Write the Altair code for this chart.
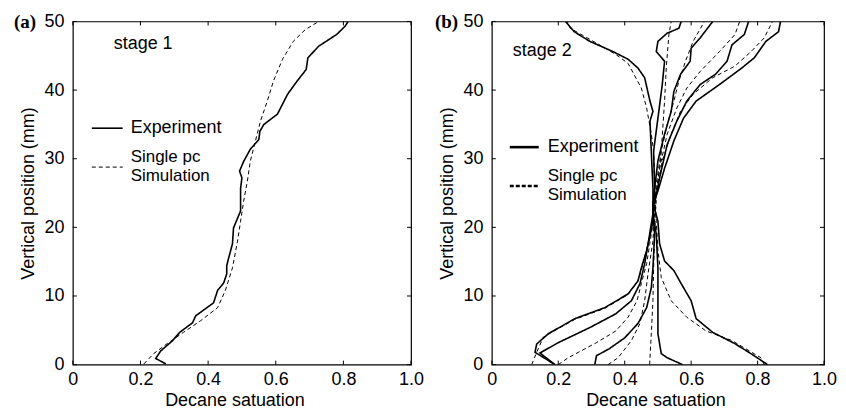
import altair as alt
import pandas as pd

FONT = "Liberation Sans"

# ---------------- data ----------------
x_ticks = [0, 0.2, 0.4, 0.6, 0.8, 1.0]
y_ticks = [0, 10, 20, 30, 40, 50]

# Panel (a), stage 1
a_exp_sat = [0.275, 0.245, 0.26, 0.295, 0.316, 0.354, 0.363, 0.416, 0.428, 0.446, 0.455, 0.455, 0.46,
             0.472, 0.475, 0.496, 0.496, 0.496, 0.50, 0.493, 0.505, 0.525, 0.55, 0.553, 0.565, 0.605,
             0.635, 0.663, 0.69, 0.695, 0.727, 0.78, 0.805, 0.814]
a_exp_pos = [0.1, 0.9, 2.0, 3.5, 4.7, 6.1, 7.1, 9.0, 10.8, 11.9, 13.2, 14.4, 15.4, 17.6, 19.9, 22.4,
             23.8, 25.7, 27.2, 28.2, 29.6, 31.4, 32.8, 34.0, 35.0, 36.5, 39.4, 41.3, 43.0, 44.7, 46.4,
             48.1, 49.3, 50.0]
a_sim_sat = [0.21, 0.239, 0.28, 0.327, 0.378, 0.428, 0.451, 0.472, 0.487, 0.496, 0.505, 0.516, 0.525,
             0.54, 0.555, 0.575, 0.593, 0.62, 0.652, 0.687, 0.727]
a_sim_pos = [0.1, 1.6, 3.1, 4.7, 6.4, 8.3, 10.8, 14.1, 18.0, 20.9, 23.8, 26.7, 29.7, 32.6, 35.5, 38.4,
             41.3, 44.5, 47.1, 48.8, 50.0]

# Panel (b), stage 2 - five profile pairs
b_exp1_sat = [0.83, 0.78, 0.73, 0.665, 0.615, 0.60, 0.57, 0.548, 0.52, 0.505, 0.50, 0.485, 0.485, 0.48,
              0.476, 0.485, 0.476, 0.46, 0.44, 0.41, 0.365, 0.295, 0.248, 0.222]
b_exp1_pos = [0, 1.6, 3.1, 4.7, 6.7, 9.3, 11.8, 13.7, 15.1, 17.6, 20.9, 23.5, 25.7, 31.1, 35.5, 36.9,
              38.4, 41.8, 43.2, 44.5, 45.6, 47.1, 48.5, 50]
b_sim1_sat = [0.82, 0.81, 0.723, 0.645, 0.587, 0.54, 0.51, 0.50, 0.495, 0.49, 0.487, 0.48, 0.466, 0.45,
              0.41, 0.373, 0.295, 0.236, 0.227]
b_sim1_pos = [0, 1.0, 3.5, 4.9, 6.9, 9.3, 12.7, 16.6, 20.9, 26.3, 31.1, 33.6, 37.4, 40.3, 43.9, 45.2,
              47.4, 49.0, 50]

b_exp2_sat = [0.574, 0.528, 0.51, 0.50, 0.50, 0.50, 0.495, 0.485, 0.49, 0.487, 0.50, 0.513, 0.52, 0.495,
              0.50, 0.528, 0.563, 0.57]
b_exp2_pos = [0, 1.0, 1.6, 4.5, 9.3, 14, 19, 22, 25.7, 31.1, 35.9, 40.8, 44.2, 45.6, 47.1, 48.3, 49.0, 50]
b_sim2_sat = [0.475, 0.48, 0.485, 0.487, 0.49, 0.492, 0.497, 0.505, 0.51, 0.52, 0.525, 0.533, 0.54]
b_sim2_pos = [0, 4.5, 9.3, 14, 19, 22, 25.3, 28.5, 31.1, 38.4, 43.2, 48.1, 50]

b_exp3_sat = [0.31, 0.315, 0.353, 0.40, 0.44, 0.466, 0.48, 0.485, 0.49, 0.485, 0.49, 0.50, 0.52, 0.54,
              0.548, 0.568, 0.597, 0.60, 0.627, 0.665]
b_exp3_pos = [0, 1.3, 2.3, 3.9, 6.0, 8.3, 11.2, 14.1, 19, 22, 25.7, 29.7, 33.6, 36.9, 39.8, 42.3, 44.2,
              46.1, 47.6, 50]
b_sim3_sat = [0.35, 0.38, 0.42, 0.446, 0.46, 0.47, 0.485, 0.49, 0.495, 0.51, 0.528, 0.548, 0.563, 0.583,
              0.606, 0.64]
b_sim3_pos = [0, 1.0, 3.5, 6.0, 9.3, 13.2, 18, 22, 26.3, 31.1, 35.0, 38.4, 41.3, 44.2, 47.1, 50]

b_exp4_sat = [0.19, 0.145, 0.20, 0.295, 0.373, 0.42, 0.446, 0.46, 0.47, 0.48, 0.49, 0.505, 0.528, 0.557,
              0.587, 0.627, 0.673, 0.708, 0.723, 0.76, 0.773]
b_exp4_pos = [0, 1.7, 3.2, 5.4, 7.4, 9.3, 11.8, 14.7, 17.5, 20.5, 23.5, 27.2, 32.1, 35.5, 38.4, 40.8,
              42.3, 44.2, 46.6, 48.1, 50]
b_sim4_sat = [0.20, 0.23, 0.315, 0.373, 0.41, 0.437, 0.45, 0.466, 0.475, 0.485, 0.49, 0.505, 0.528,
              0.557, 0.587, 0.627, 0.685, 0.732, 0.746]
b_sim4_pos = [0, 1.0, 3.2, 4.9, 6.9, 9.3, 11.8, 14.7, 17.5, 20.5, 23.5, 28.6, 33.6, 37.4, 40.3, 42.7,
              45.6, 48.1, 50]

b_exp5_sat = [0.19, 0.13, 0.135, 0.17, 0.25, 0.34, 0.41, 0.44, 0.45, 0.466, 0.475, 0.485, 0.485, 0.50,
              0.52, 0.548, 0.577, 0.615, 0.685, 0.752, 0.79, 0.825, 0.863, 0.869]
b_exp5_pos = [0, 1.8, 3.0, 4.5, 6.7, 8.3, 10.3, 12.2, 14.1, 16.6, 18.5, 21, 23.5, 25.3, 28.6, 32.6,
              35.9, 38.4, 40.8, 43.2, 44.7, 47.1, 48.5, 50]
b_sim5_sat = [0.12, 0.135, 0.155, 0.18, 0.25, 0.34, 0.41, 0.44, 0.452, 0.465, 0.475, 0.485, 0.49, 0.50,
              0.513, 0.54, 0.568, 0.606, 0.665, 0.732, 0.78, 0.82, 0.845]
b_sim5_pos = [0, 1.8, 4.0, 4.7, 6.6, 8.2, 10.2, 12.2, 14.1, 16.6, 18.5, 21, 23.5, 25.7, 29.7, 33.6,
              36.9, 39.4, 41.8, 43.5, 45.6, 47.6, 50]

KINDS = ["Experiment", "Simulation"]


def curve(series, kind, sat, pos):
    return pd.DataFrame({"sat": sat, "pos": pos, "series": series, "kind": kind,
                         "idx": list(range(len(sat)))})


df_a = pd.concat([curve("exp", "Experiment", a_exp_sat, a_exp_pos),
                  curve("sim", "Simulation", a_sim_sat, a_sim_pos)])
df_b = pd.concat([
    curve("e1", "Experiment", b_exp1_sat, b_exp1_pos), curve("s1", "Simulation", b_sim1_sat, b_sim1_pos),
    curve("e2", "Experiment", b_exp2_sat, b_exp2_pos), curve("s2", "Simulation", b_sim2_sat, b_sim2_pos),
    curve("e3", "Experiment", b_exp3_sat, b_exp3_pos), curve("s3", "Simulation", b_sim3_sat, b_sim3_pos),
    curve("e4", "Experiment", b_exp4_sat, b_exp4_pos), curve("s4", "Simulation", b_sim4_sat, b_sim4_pos),
    curve("e5", "Experiment", b_exp5_sat, b_exp5_pos), curve("s5", "Simulation", b_sim5_sat, b_sim5_pos),
])

H = 344
ONE = pd.DataFrame({"k": [0]})
XT = pd.DataFrame({"sat": x_ticks})
YT = pd.DataFrame({"pos": y_ticks})


def panel(df, width, tag, stage, leg, dash, widths, leg_width, title_x):
    xs = alt.Scale(domain=[0, 1], nice=False, zero=False)
    ys = alt.Scale(domain=[0, 50], nice=False, zero=False)
    xaxis = alt.Axis(values=x_ticks, grid=False, ticks=False, tickSize=0, domain=False,
                     labelExpr="datum.value == 0 ? '0' : format(datum.value, '.1f')",
                     labelFont=FONT, labelFontSize=18, labelColor="black", labelPadding=6,
                     labelFlush=False, labelOverlap=False,
                     title="Decane satuation", titleFont=FONT, titleFontSize=18,
                     titleFontWeight="normal", titleColor="black", titlePadding=3,
                     titleX=title_x, titleAnchor="middle")
    yaxis = alt.Axis(values=y_ticks, grid=False, ticks=False, tickSize=0, domain=False,
                     labelFont=FONT, labelFontSize=18, labelColor="black", labelPadding=9,
                     labelFlush=False, labelOverlap=False,
                     title="Vertical position (mm)", titleFont=FONT, titleFontSize=18,
                     titleFontWeight="normal", titleColor="black", titlePadding=6)
    X = alt.X("sat:Q", scale=xs, axis=xaxis)
    Y = alt.Y("pos:Q", scale=ys, axis=yaxis)
    lines = alt.Chart(df).mark_line(color="black", clip=True).encode(
        x=X, y=Y,
        detail="series:N",
        order="idx:Q",
        strokeDash=alt.StrokeDash("kind:N", scale=alt.Scale(domain=KINDS, range=[[1, 0], dash]),
                                  legend=None),
        strokeWidth=alt.StrokeWidth("kind:N", scale=alt.Scale(domain=KINDS, range=widths),
                                    legend=None),
    )
    tk = 4
    top_t = alt.Chart(XT).mark_rule(color="black").encode(x=X, y=alt.value(0), y2=alt.value(tk))
    bot_t = alt.Chart(XT).mark_rule(color="black").encode(x=X, y=alt.value(H - tk), y2=alt.value(H))
    lef_t = alt.Chart(YT).mark_rule(color="black").encode(y=Y, x=alt.value(0), x2=alt.value(tk))
    rig_t = alt.Chart(YT).mark_rule(color="black").encode(
        y=Y, x=alt.value(width - tk), x2=alt.value(width))

    def txt(s, x, y, **kw):
        opts = dict(align="left", baseline="middle", font=FONT, fontSize=18, color="black")
        opts.update(kw)
        return alt.Chart(ONE).mark_text(**opts).encode(
            x=alt.value(x), y=alt.value(y), text=alt.value(s))

    sx0, sx1, tx, y_exp, y_sp, y_sim, y_dash = leg
    leg_exp = alt.Chart(ONE).mark_rule(color="black", strokeWidth=leg_width[0]).encode(
        x=alt.value(sx0), x2=alt.value(sx1), y=alt.value(y_exp))
    leg_sim = alt.Chart(ONE).mark_rule(color="black", strokeWidth=leg_width[1],
                                       strokeDash=dash).encode(
        x=alt.value(sx0), x2=alt.value(sx1), y=alt.value(y_dash))

    layers = [lines, top_t, bot_t, lef_t, rig_t, leg_exp, leg_sim,
              txt("Experiment", tx, y_exp), txt("Single pc", tx, y_sp, fontSize=17),
              txt("Simulation", tx, y_sim, fontSize=17),
              txt(stage[0], stage[1], stage[2]),
              txt(tag[0], tag[1], tag[2], font="Liberation Serif", fontWeight="bold", fontSize=19)]
    return alt.layer(*layers).properties(width=width, height=H)


pa = panel(df_a, 339, ("(a)", -59, 1), ("stage 1", 41, 23),
           (19, 50, 58, 107, 136, 155, 146), [4, 3], [1.6, 1.0], (1.6, 1.0), 162)
pb = panel(df_b, 333, ("(b)", -57, 1), ("stage 2", 21, 30),
           (18, 47, 56, 126, 155, 174, 165), [4, 2], [1.3, 1.2], (2.6, 2.6), 164)

chart = alt.hconcat(pa, pb, spacing=81, bounds="flush").configure_view(
    stroke="black", strokeWidth=1.2).properties(
    padding={"left": 5, "top": 3, "right": 0, "bottom": 0})

chart.save("out.html", embed_options={"renderer": "svg", "actions": False})
